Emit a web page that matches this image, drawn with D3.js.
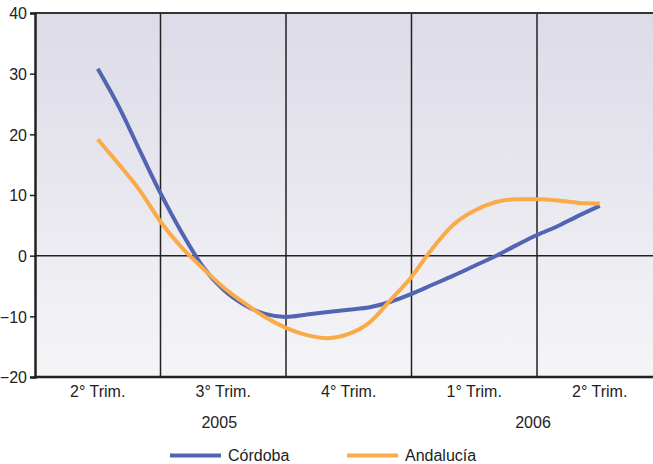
<!DOCTYPE html>
<html>
<head>
<meta charset="utf-8">
<script src="https://cdn.jsdelivr.net/npm/d3@7"></script>
<style>
  html, body { margin: 0; padding: 0; background: #fff; }
  svg { display: block; font-family: "Liberation Sans", Arial, Helvetica, sans-serif; }
</style>
</head>
<body>
<svg id="chart" width="653" height="464"></svg>
<script>
// ---- data ----
const categories = ["2° Trim.", "3° Trim.", "4° Trim.", "1° Trim.", "2° Trim."];
const years = ["2005", "2006"];
const yearSpans = [3, 2];           // number of quarters under each year
const yTicks = [-20, -10, 0, 10, 20, 30, 40];
// readings every sixth of a quarter, from 2° Trim. 2005 to 2° Trim. 2006
const cordoba = [30.8, 24.6, 17.4, 10.3, 3.9, -1.7, -5.6, -8.1, -9.6, -10.1, -9.7, -9.3, -8.9,
                 -8.5, -7.6, -6.3, -4.8, -3.3, -1.7, -0.1, 1.7, 3.4, 4.9, 6.6, 8.2];
const andalucia = [19.2, 15.1, 10.8, 5.6, 1.4, -2.0, -5.2, -7.8, -10.1, -11.9, -13.1, -13.6, -12.9,
                   -11.0, -7.3, -3.5, 1.2, 5.1, 7.4, 8.8, 9.3, 9.3, 9.1, 8.7, 8.6];
const stepsPerQuarter = 6;
const seriesNames = ["Córdoba", "Andalucía"];
const seriesColors = ["#5265b2", "#fbaa48"];

// ---- layout ----
const svg = d3.select("#chart");
const pLeft = 35, pRight = 662.5, pTop = 13, pBottom = 377;

const xBand = d3.scaleBand().domain(d3.range(categories.length)).range([pLeft, pRight]).padding(0);
const xPos = d3.scaleLinear().domain([-0.5, categories.length - 0.5]).range([pLeft, pRight]);
const y = d3.scaleLinear().domain([-20, 40]).range([pBottom, pTop]);

// background gradient
const defs = svg.append("defs");
const grad = defs.append("linearGradient").attr("id", "bg").attr("x1", 0).attr("y1", 0).attr("x2", 0).attr("y2", 1);
grad.append("stop").attr("offset", "0%").attr("stop-color", "#dcdbe7");
grad.append("stop").attr("offset", "100%").attr("stop-color", "#f5f5f8");
svg.append("rect").attr("x", pLeft).attr("y", pTop).attr("width", pRight - pLeft).attr("height", pBottom - pTop)
  .attr("fill", "url(#bg)");

// vertical grid lines at band boundaries
const bounds = d3.range(1, categories.length).map(i => xBand(i));
svg.append("g").selectAll("line").data(bounds).join("line")
  .attr("x1", d => d).attr("x2", d => d).attr("y1", pTop).attr("y2", pBottom)
  .attr("stroke", "#222").attr("stroke-width", 1.5);

// zero line
svg.append("line").attr("x1", pLeft).attr("x2", pRight).attr("y1", y(0)).attr("y2", y(0))
  .attr("stroke", "#222").attr("stroke-width", 1.5);

// top border
svg.append("line").attr("x1", pLeft).attr("x2", pRight).attr("y1", pTop).attr("y2", pTop)
  .attr("stroke", "#333").attr("stroke-width", 2);

// y axis
const yAxis = d3.axisLeft(y).tickValues(yTicks).tickSize(5).tickPadding(3).tickFormat(d3.format("d"));
const gy = svg.append("g").attr("transform", `translate(${pLeft},0)`).call(yAxis);
gy.select(".domain").attr("stroke", "#222").attr("stroke-width", 2.5);
gy.selectAll(".tick line").attr("stroke", "#222").attr("stroke-width", 1.5);
gy.selectAll(".tick text").attr("fill", "#222").style("font-size", "16px").attr("dy", "0.36em");

// x axis (bottom line)
svg.append("line").attr("x1", pLeft - 1).attr("x2", pRight).attr("y1", pBottom).attr("y2", pBottom)
  .attr("stroke", "#222").attr("stroke-width", 2.5);

// category labels
svg.append("g").selectAll("text").data(categories).join("text")
  .attr("x", (d, i) => xBand(i) + xBand.bandwidth() / 2)
  .attr("y", 397)
  .attr("text-anchor", "middle").attr("fill", "#222").style("font-size", "16px")
  .text(d => d);

// year labels
let startQ = 0;
const yearPos = yearSpans.map(n => { const s = startQ; startQ += n; return [s, s + n]; });
svg.append("g").selectAll("text").data(years).join("text")
  .attr("x", (d, i) => (xBand(yearPos[i][0]) + (xBand(yearPos[i][1] - 1) + xBand.bandwidth())) / 2 - 4)
  .attr("y", 428)
  .attr("text-anchor", "middle").attr("fill", "#222").style("font-size", "16px")
  .text(d => d);

// lines
const line = d3.line()
  .x((d, i) => xPos(i / stepsPerQuarter))
  .y(d => y(d))
  .curve(d3.curveMonotoneX);

[cordoba, andalucia].forEach((s, k) => {
  svg.append("path").datum(s).attr("d", line)
    .attr("fill", "none").attr("stroke", seriesColors[k]).attr("stroke-width", 4)
    .attr("stroke-linejoin", "round");
});

// legend
const legendX = [170, 347];
const lg = svg.append("g").selectAll("g").data(seriesNames).join("g")
  .attr("transform", (d, i) => `translate(${legendX[i]},455.5)`);
lg.append("line").attr("x1", 0).attr("x2", 51).attr("y1", 0).attr("y2", 0)
  .attr("stroke", (d, i) => seriesColors[i]).attr("stroke-width", 4);
lg.append("text").attr("x", 58).attr("y", 5).attr("fill", "#222").style("font-size", "16px").text(d => d);
</script>
</body>
</html>
